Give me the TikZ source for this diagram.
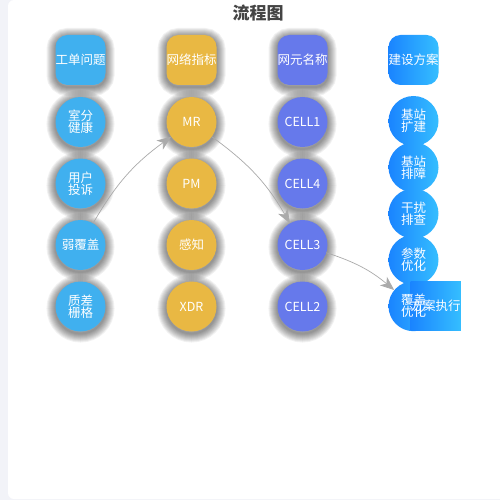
\documentclass[tikz,border=0pt]{standalone}
\usepackage{fontspec}
\setmainfont{Noto Sans CJK SC}
\usetikzlibrary{arrows.meta,backgrounds}
\definecolor{fondo}{RGB}{242,243,248}
\definecolor{celeste}{RGB}{64,176,239}
\definecolor{dorado}{RGB}{233,184,67}
\definecolor{lila}{RGB}{102,121,235}
\definecolor{azulA}{RGB}{26,132,255}
\definecolor{azulB}{RGB}{53,190,255}
\definecolor{gris}{RGB}{170,170,170}
\definecolor{titulo}{RGB}{68,68,68}

\begin{document}
\begin{tikzpicture}[x=1pt,y=-1pt,
    letra/.style={text=white,font=\fontsize{12.5}{12}\selectfont,align=center,inner sep=0pt},
    caja/.style={letra,rectangle,rounded corners=12pt,minimum size=50pt},
    bola/.style={letra,circle,minimum size=50pt},
    halo/.style={preaction={draw=black,draw opacity=0.055,line width=#1,transform canvas={yshift=-2pt}}},
    sombra/.style={halo=18pt,halo=16pt,halo=14pt,halo=12pt,halo=10pt,halo=8pt,halo=6pt,halo=4pt,halo=2pt},
    degradado/.style={left color=azulA,right color=azulB},
    flecha/.style={gris,line width=0.7pt,-{Stealth[length=14pt,width=11pt,inset=4pt]}}]
  \useasboundingbox (0,0) rectangle (500,500);
  \begin{scope}[on background layer]
    \fill[fondo] (0,0) rectangle (500,500);
    \fill[white,rounded corners=6pt] (8,0) rectangle (512,499);
  \end{scope}
  \node[font=\bfseries\fontsize{17}{17}\selectfont,text=titulo] (titulo) at (258,13) {流程图};
  % cabeceras
  \node[caja,fill=celeste,sombra] (h1) at (80.5,60) {工单问题};
  \node[caja,fill=dorado,sombra] (h2) at (191.5,60) {网络指标};
  \node[caja,fill=lila,sombra] (h3) at (302.5,60) {网元名称};
  \node[caja,degradado] (h4) at (413.5,60) {建设方案};
  % columnas
  \foreach \t [count=\i] in {{室分\\健康},{用户\\投诉},{弱覆盖},{质差\\栅格}}
    \node[bola,fill=celeste,sombra] (a\i) at (80.5,60.5+61.5*\i) {\t};
  \foreach \t [count=\i] in {MR,PM,感知,XDR}
    \node[bola,fill=dorado,sombra] (m\i) at (191.5,60.5+61.5*\i) {\t};
  \foreach \t [count=\i] in {CELL1,CELL4,CELL3,CELL2}
    \node[bola,fill=lila,sombra] (c\i) at (302.5,60.5+61.5*\i) {\t};
  \foreach \t [count=\i] in {{基站\\扩建},{基站\\排障},{干扰\\排查},{参数\\优化},{覆盖\\优化}}
    \node[bola] (b\i) at (413.5,74.7+46.3*\i) {\t};
  \node[letra,minimum width=50pt,minimum height=49pt] (plan) at (435.7,306.2) {方案执行};
  \begin{scope}[on background layer]
    \foreach \i in {1,...,5} \shade[degradado] (b\i.center) circle (25pt);
    \shade[degradado] (plan.north west) rectangle (plan.south east);
  \end{scope}
  % flechas
  \draw[flecha] (a3) to[bend left=12] (m1);
  \draw[flecha] (m1) to[bend left=12] (c3);
  \draw[flecha] (c3) to[bend left=11] (b5);
\end{tikzpicture}
\end{document}
